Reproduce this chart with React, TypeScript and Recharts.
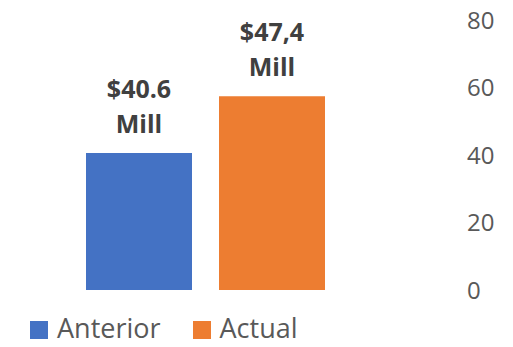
import React from 'react';
import { BarChart, Bar, XAxis, YAxis, Legend, LabelList } from 'recharts';

const seriesNames = ['Anterior', 'Actual'];
const seriesKeys = ['anterior', 'actual'];
const seriesValues = [40.6, 57.4];
const seriesColors = ['#4472C4', '#ED7D31'];
const valueLabels = [
    ['$40.6', 'Mill'],
    ['$47,4', 'Mill'],
];
const yTicks = [0, 20, 40, 60, 80];

const FONT = '"Open Sans", "DejaVu Sans", sans-serif';

const data = [
    seriesKeys.reduce<Record<string, number | string>>(
        (row, key, i) => ({ ...row, [key]: seriesValues[i] }),
        { name: '' }
    ),
];

// two-line bold label above each bar
const makeLabel = (lines: string[]) => (props: any) => {
    const { x, y, width } = props;
    const cx = Number(x) + Number(width) / 2;
    const style = { fontFamily: FONT, fontSize: 25, fontWeight: 700, fill: '#404040' };
    return (
        <g>
            <text x={cx} y={Number(y) - 65} textAnchor="middle" dominantBaseline="central" style={style}>
                {lines[0]}
            </text>
            <text x={cx} y={Number(y) - 30} textAnchor="middle" dominantBaseline="central" style={style}>
                {lines[1]}
            </text>
        </g>
    );
};

const renderLegend = () => (
    <div
        style={{
            width: 513,
            height: 57,
            boxSizing: 'border-box',
            paddingTop: 19,
            paddingLeft: 30,
            display: 'flex',
            gap: 32,
            fontFamily: FONT,
        }}
    >
        {seriesNames.map((name, i) => (
            <div key={name} style={{ display: 'flex', alignItems: 'flex-start' }}>
                <div
                    style={{
                        width: 18,
                        height: 18,
                        marginTop: 12,
                        marginRight: 9,
                        backgroundColor: seriesColors[i],
                    }}
                />
                <span style={{ fontSize: 27, lineHeight: 'normal', color: '#595959' }}>{name}</span>
            </div>
        ))}
    </div>
);

export default function App() {
    return (
        <div style={{ position: 'absolute', left: 0, top: 0, background: '#fff' }}>
            <BarChart
                width={513}
                height={347}
                data={data}
                margin={{ top: 20, right: 0, bottom: 0, left: 0 }}
                barSize={106}
                barGap={27}
                style={{ fontFamily: FONT }}
            >
                <XAxis dataKey="name" hide />
                <YAxis
                    orientation="right"
                    width={102}
                    domain={[0, 80]}
                    ticks={yTicks}
                    axisLine={false}
                    tickLine={false}
                    tickSize={0}
                    tickMargin={56}
                    tick={{ fill: '#595959', fontSize: 24, fontFamily: FONT, textAnchor: 'start' }}
                />
                <Legend
                    verticalAlign="bottom"
                    align="left"
                    content={renderLegend}
                    wrapperStyle={{ left: 0, bottom: 0, width: 513, height: 57 }}
                />
                {seriesKeys.map((key, i) => (
                    <Bar
                        key={key}
                        dataKey={key}
                        name={seriesNames[i]}
                        fill={seriesColors[i]}
                        isAnimationActive={false}
                    >
                        <LabelList dataKey={key} content={makeLabel(valueLabels[i])} />
                    </Bar>
                ))}
            </BarChart>
        </div>
    );
}
